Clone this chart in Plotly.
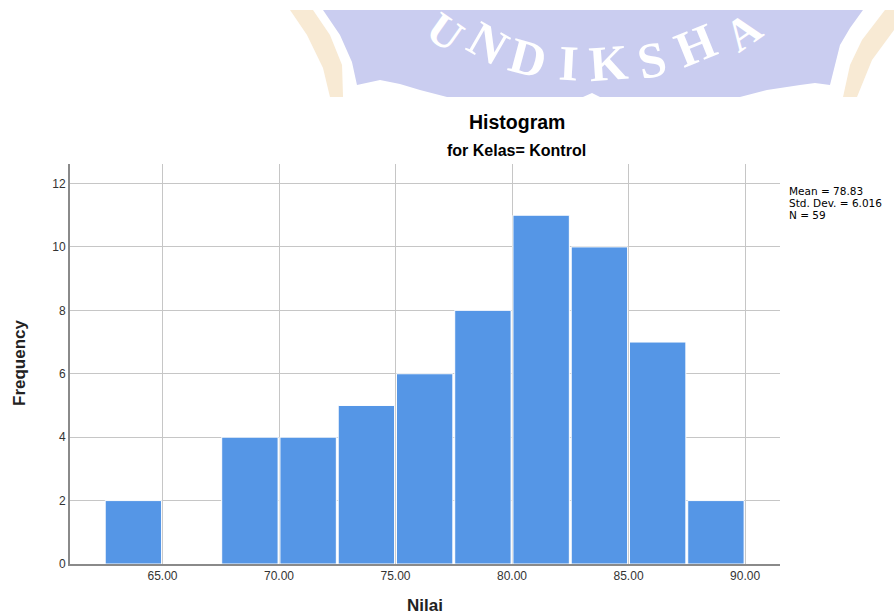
import plotly.graph_objects as go

W = 894
H = 615

bin_centers = [63.75, 66.25, 68.75, 71.25, 73.75, 76.25, 78.75, 81.25, 83.75, 86.25, 88.75]
frequencies = [2, 0, 4, 4, 5, 6, 8, 11, 10, 7, 2]
x_ticks = [65, 70, 75, 80, 85, 90]
y_ticks = [0, 2, 4, 6, 8, 10, 12]
stats_lines = ["Mean = 78.83", "Std. Dev. = 6.016", "N = 59"]
watermark_letters = ["U", "N", "D", "I", "K", "S", "H", "A"]
letter_x = [445, 488, 528, 568, 608, 652, 695, 743]
letter_y = [32, 43, 58, 63, 63, 60, 45, 32]
letter_size = [45, 50, 50, 50, 50, 50, 50, 45]
letter_angle = [35, 30, 15, 3, -4, -12, -22, -35]

FONT = "Liberation Sans"


def px(x):
    return x / W


def py(y):
    return 1 - y / H


def path(points):
    # points are in screen pixels
    d = "M " + " L ".join(f"{px(x):.4f},{py(y):.4f}" for x, y in points)
    return d + " Z"


def logo_shape(points, color):
    return dict(type="path", xref="paper", yref="paper", layer="below", line_width=0,
                fillcolor=color, path=path(points))


def text(x, y, s, size, color="#000000", **kw):
    anchor = kw.pop("xanchor", "center")
    return dict(
        x=px(x), y=py(y), xref="paper", yref="paper", text=s, showarrow=False,
        xanchor=anchor, yanchor="middle", borderpad=0, borderwidth=0,
        font=dict(family=kw.pop("family", FONT), size=size, color=color), **kw
    )


fig = go.Figure()
fig.add_trace(
    go.Bar(
        x=bin_centers,
        y=frequencies,
        width=2.42,
        marker=dict(color="#5596e6", line=dict(color="#ffffff", width=1)),
    )
)

# faded logo behind the chart
shapes = [
    logo_shape([(290, 10), (313, 10), (330, 35), (342, 65), (343, 97), (330, 97),
                (323, 68), (307, 35)], "#f8ead4"),
    logo_shape([(885, 10), (894, 10), (894, 30), (872, 60), (857, 97), (843, 97),
                (850, 65), (862, 40)], "#f8ead4"),
    logo_shape([
        (323, 10), (863, 10), (850, 28), (840, 45), (830, 85), (815, 83), (800, 85),
        (767, 90), (740, 97), (600, 97), (592, 93), (583, 97), (447, 97), (420, 90),
        (400, 84), (380, 80), (357, 85), (352, 62), (340, 35),
    ], "#cacdf0"),
]

annotations = [
    text(517, 122, "<b>Histogram</b>", 19.5),
    text(516, 151, "<b>for Kelas= Kontrol</b>", 16),
    text(425, 605, "<b>Nilai</b>", 17, color="#222222"),
    text(19, 363, "<b>Frequency</b>", 17, color="#222222", textangle=-90),
]
for i, line in enumerate(stats_lines):
    annotations.append(
        text(789, 191 + i * 11.9, line, 10.5, xanchor="left", family="DejaVu Sans")
    )
for s, x, y, a, size in zip(watermark_letters, letter_x, letter_y, letter_angle, letter_size):
    annotations.append(
        text(x, y, f"<b>{s}</b>", size, color="#ffffff",
             family="Liberation Serif", textangle=a)
    )

fig.update_layout(
    width=W,
    height=H,
    margin=dict(l=0, r=0, t=0, b=0),
    paper_bgcolor="#ffffff",
    plot_bgcolor="#ffffff",
    showlegend=False,
    shapes=shapes,
    annotations=annotations,
    font=dict(family=FONT, size=12, color="#333333"),
    xaxis=dict(
        domain=[px(70), px(780)],
        range=[61.03, 91.5],
        tickvals=x_ticks,
        tickformat=".2f",
        automargin=False,
        showgrid=True,
        gridcolor="#c6c6c6",
        gridwidth=1.2,
        showline=True,
        linecolor="#8a8a8a",
        linewidth=2,
        zeroline=False,
        ticks="",
    ),
    yaxis=dict(
        domain=[py(564), py(164)],
        range=[0, 12.615],
        tickvals=y_ticks,
        automargin=False,
        showgrid=True,
        gridcolor="#c6c6c6",
        gridwidth=1.2,
        showline=True,
        linecolor="#8a8a8a",
        linewidth=2,
        zeroline=False,
        ticks="",
    ),
)

fig.write_html(
    "out.html",
    config={"displayModeBar": False},
    post_script="document.body.style.margin='0';document.body.style.overflow='hidden';",
)
